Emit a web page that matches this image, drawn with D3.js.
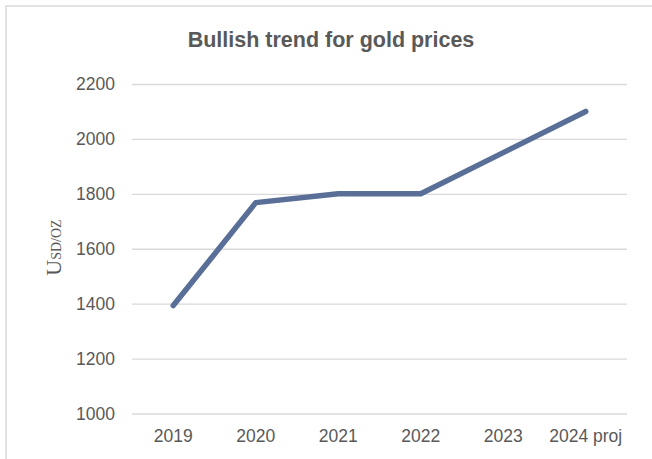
<!DOCTYPE html>
<html><head><meta charset="utf-8">
<script src="https://cdn.jsdelivr.net/npm/d3@7"></script>
<style>html,body{margin:0;padding:0;background:#fff;}svg{display:block;}</style>
</head><body>
<script>
const categories = ["2019","2020","2021","2022","2023","2024 proj"];
const prices = [1393, 1768, 1800, 1800, 1950, 2100];
const yTicks = [1000,1200,1400,1600,1800,2000,2200];
const titleText = "Bullish trend for gold prices";

const W = 652, H = 459;
const svg = d3.select("body").append("svg").attr("width", W).attr("height", H);
svg.append("rect").attr("x",6).attr("y",6).attr("width",W+10).attr("height",H+10)
  .attr("fill","#fff").attr("stroke","#d9d9d9").attr("stroke-width",1.5);

const x = d3.scaleBand().domain(categories).range([132, 627]);
const y = d3.scaleLinear().domain([1000, 2200]).range([413.5, 84]);

const font = "'Liberation Sans', Arial, sans-serif";
const gy = svg.append("g").attr("transform","translate(132,0)")
  .call(d3.axisLeft(y).tickValues(yTicks).tickSize(-495).tickPadding(17).tickFormat(d3.format("d")));
gy.select(".domain").remove();
gy.selectAll(".tick line").attr("stroke","#d9d9d9").attr("stroke-width",1.3);
gy.selectAll(".tick text").attr("fill","#595959").style("font-family",font).style("font-size","17.5px");

const gx = svg.append("g").attr("transform","translate(0,413.5)")
  .call(d3.axisBottom(x).tickSize(0).tickPadding(16));
gx.select(".domain").remove();
gx.selectAll(".tick text").attr("fill","#595959").style("font-family",font).style("font-size","17.5px");

const line = d3.line().x((d,i)=>x(categories[i]) + x.bandwidth()/2).y(d=>y(d));
svg.append("path").datum(prices).attr("d", line).attr("fill","none")
  .attr("stroke","#5a6f97").attr("stroke-width",5.5).attr("stroke-linecap","round").attr("stroke-linejoin","round");

svg.append("text").attr("x",331).attr("y",47).attr("text-anchor","middle")
  .attr("fill","#595959").style("font-family",font).style("font-weight","bold").style("font-size","21.5px")
  .text(titleText);

const yl = svg.append("text").attr("transform","translate(61,247.5) rotate(-90)").attr("text-anchor","middle")
  .attr("fill","#595959").style("font-family","'Liberation Serif', 'Times New Roman', serif");
yl.append("tspan").style("font-size","22px").text("U");
yl.append("tspan").style("font-size","14px").text("SD/OZ");
</script>
</body></html>
